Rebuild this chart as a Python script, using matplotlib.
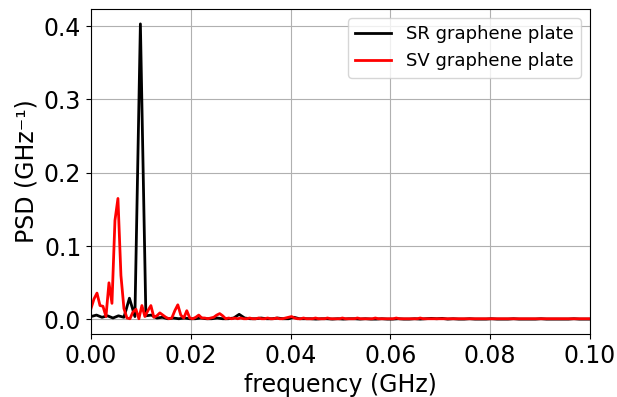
import numpy as np
import matplotlib
matplotlib.use("Agg")
import matplotlib.pyplot as plt

# SR graphene plate: PSD sampled every 0.0011 GHz
df_sr = 0.0011
psd_sr = [0.004, 0.006, 0.003, 0.005, 0.002, 0.005, 0.003, 0.029, 0.004, 0.403,
          0.005, 0.006, 0.002, 0.003, 0.001, 0.002, 0.001, 0.002, 0.001, 0.001,
          0.002, 0.001, 0.001, 0.002, 0.001, 0.001, 0.002, 0.007, 0.002, 0.001,
          0.001, 0.002, 0.001, 0.001, 0.002, 0.001, 0.001, 0.003, 0.001, 0.001,
          0.001, 0.0005, 0.001, 0.001, 0.0005, 0.001, 0.0005, 0.001, 0.001, 0.0005,
          0.001, 0.0005, 0.0005, 0.001, 0.0005, 0.0005, 0.001, 0.0005, 0.0005, 0.001,
          0.0005, 0.001, 0.0015, 0.001, 0.0015, 0.0005, 0.001, 0.0005, 0.0005, 0.001,
          0.0005, 0.0005, 0.0005, 0.001, 0.0005, 0.0005, 0.0005, 0.001, 0.0005, 0.0005,
          0.0005, 0.0005, 0.001, 0.0005, 0.0005, 0.0005, 0.0005, 0.0005, 0.001, 0.0005,
          0.0005, 0.0005]

# SV graphene plate: PSD sampled every 0.0006 GHz
df_sv = 0.0006
psd_sv = [0.015, 0.028, 0.036, 0.019, 0.018, 0.004, 0.050, 0.022, 0.135, 0.165,
          0.060, 0.015, 0.002, 0.001, 0.010, 0.014, 0.001, 0.019, 0.004, 0.012,
          0.019, 0.003, 0.005, 0.009, 0.006, 0.003, 0.001, 0.002, 0.012, 0.020,
          0.006, 0.002, 0.012, 0.002, 0.001, 0.003, 0.006, 0.002, 0.002, 0.001,
          0.002, 0.003, 0.006, 0.008, 0.005, 0.001, 0.002, 0.001, 0.002, 0.001,
          0.002, 0.001, 0.001, 0.002, 0.001, 0.001, 0.002, 0.001, 0.001, 0.002,
          0.001, 0.001, 0.002, 0.001, 0.001, 0.002, 0.003, 0.004, 0.002, 0.001,
          0.001, 0.002, 0.001, 0.001, 0.001, 0.002, 0.001, 0.001, 0.001, 0.002,
          0.001, 0.001, 0.001, 0.001, 0.002, 0.001, 0.001, 0.001, 0.001, 0.002,
          0.001, 0.001, 0.001, 0.001, 0.001, 0.002, 0.001, 0.001, 0.001, 0.001,
          0.001, 0.001, 0.002, 0.001, 0.001, 0.001, 0.001, 0.001, 0.001, 0.001,
          0.002, 0.001, 0.001, 0.001, 0.001, 0.001, 0.001, 0.001, 0.001, 0.001,
          0.001, 0.001, 0.001, 0.001, 0.001, 0.001, 0.001, 0.001, 0.001, 0.001,
          0.001, 0.001, 0.001, 0.001, 0.001, 0.001, 0.001, 0.001, 0.001, 0.001,
          0.001, 0.001, 0.001, 0.001, 0.001, 0.001, 0.001, 0.001, 0.001, 0.001,
          0.001, 0.001, 0.001, 0.001, 0.001, 0.001, 0.001, 0.001, 0.001, 0.001,
          0.001, 0.001, 0.001, 0.001, 0.001, 0.001, 0.001, 0.001]

f_sr = df_sr * np.arange(len(psd_sr))
f_sv = df_sv * np.arange(len(psd_sv))

fig = plt.figure(figsize=(6.17, 3.97), dpi=100)
ax = fig.add_axes([0.1475, 0.159, 0.8085, 0.818])

ax.plot(f_sr, psd_sr, color='black', lw=2, label='SR graphene plate')
ax.plot(f_sv, psd_sv, color='red', lw=2, label='SV graphene plate')

ax.set_xlim(0, 0.1)
ax.set_xticks([0.0, 0.02, 0.04, 0.06, 0.08, 0.1])
ax.set_yticks([0.0, 0.1, 0.2, 0.3, 0.4])
ax.xaxis.set_major_formatter(matplotlib.ticker.FormatStrFormatter('%.2f'))
ax.yaxis.set_major_formatter(matplotlib.ticker.FormatStrFormatter('%.1f'))
ax.tick_params(labelsize=17)
ax.grid(True)
ax.set_xlabel('frequency (GHz)', fontsize=17)
ax.set_ylabel('PSD (GHz\u207b\u00b9)', fontsize=17)
ax.legend(loc='upper right', fontsize=13)

fig.savefig('out.png', dpi=100)
